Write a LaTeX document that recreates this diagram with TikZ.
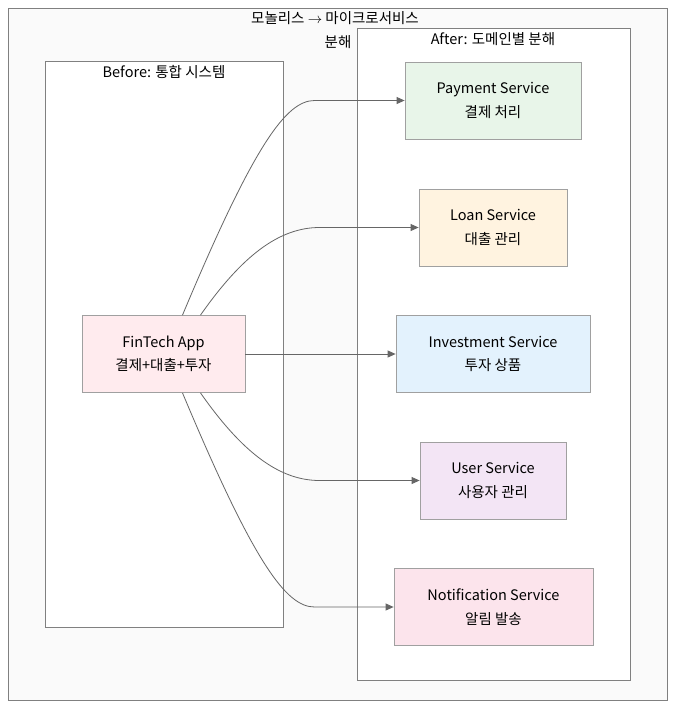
\documentclass[tikz,border=0pt]{standalone}
\usepackage{fontspec}
\setmainfont{Noto Sans CJK KR}
\usetikzlibrary{arrows.meta,positioning}
\definecolor{edgegray}{HTML}{666666}
\definecolor{boxgray}{HTML}{A0A0A0}
\definecolor{appfill}{HTML}{FFEBEE}
\definecolor{payfill}{HTML}{E8F5E9}
\definecolor{loanfill}{HTML}{FFF3E0}
\definecolor{invfill}{HTML}{E3F2FD}
\definecolor{userfill}{HTML}{F3E5F5}
\definecolor{notifill}{HTML}{FCE4EC}
\tikzset{
    %Define standard arrow tip
    >={Triangle[length=8pt,width=7pt]},
    svc/.style={
      rectangle,
      draw=boxgray, line width=0.8pt,
      align=center,
      font=\fontsize{14.5}{23.5}\selectfont,
      minimum height=77pt},
    group/.style={
      draw=black!50, line width=0.8pt},
    grouplabel/.style={
      font=\fontsize{14.5}{23.5}\selectfont,
      inner sep=0pt},
    flow/.style={
      ->, draw=edgegray, line width=0.8pt},
}
\begin{document}
\begin{tikzpicture}[x=1pt,y=-1pt]
    \useasboundingbox (0,0) rectangle (683,716);
    % outer frame
    \draw[group, fill=black!2] (8,8) rectangle (667,700);
    \node (title) [grouplabel, align=center] at (335,30)
          {모놀리스 $\rightarrow$ 마이크로서비스\\\hspace*{6pt}분해};
    % before
    \draw[group, fill=white] (45,61) rectangle (283,627);
    \node (beforelbl) [grouplabel] at (164,72) {Before: 통합 시스템};
    % after
    \draw[group, fill=white] (357,28) rectangle (630,680);
    \node (afterlbl) [grouplabel] at (493,39) {After: 도메인별 분해};
    \node (app) [svc, fill=appfill, minimum width=163pt] at (163.5,354)
          {FinTech App\\결제+대출+투자};
    \node (pay) [svc, fill=payfill, minimum width=176pt] at (493,100.5)
          {Payment Service\\결제 처리};
    \node (loan) [svc, fill=loanfill, minimum width=148pt] at (493,227.5)
          {Loan Service\\대출 관리};
    \node (inv) [svc, fill=invfill, minimum width=194pt] at (493,354)
          {Investment Service\\투자 상품};
    \node (user) [svc, fill=userfill, minimum width=146pt] at (493,480.5)
          {User Service\\사용자 관리};
    \node (noti) [svc, fill=notifill, minimum width=199pt] at (493.5,607)
          {Notification Service\\알림 발송};
    % connectors
    \draw[flow] ([xshift=19pt]app.north) .. controls +(72,-172) and +(-28,0)
          .. ([xshift=-90pt]pay.west) -- (pay.west);
    \draw[flow] ([xshift=37pt]app.north) .. controls +(42,-60) and +(-40,0)
          .. ([xshift=-99pt]loan.west) -- (loan.west);
    \draw[flow] (app.east) -- (inv.west);
    \draw[flow] ([xshift=37pt]app.south) .. controls +(42,60) and +(-40,0)
          .. ([xshift=-100pt]user.west) -- (user.west);
    \draw[flow] ([xshift=19pt]app.south) .. controls +(72,172) and +(-28,0)
          .. ([xshift=-79pt]noti.west) -- (noti.west);
\end{tikzpicture}
\end{document}
